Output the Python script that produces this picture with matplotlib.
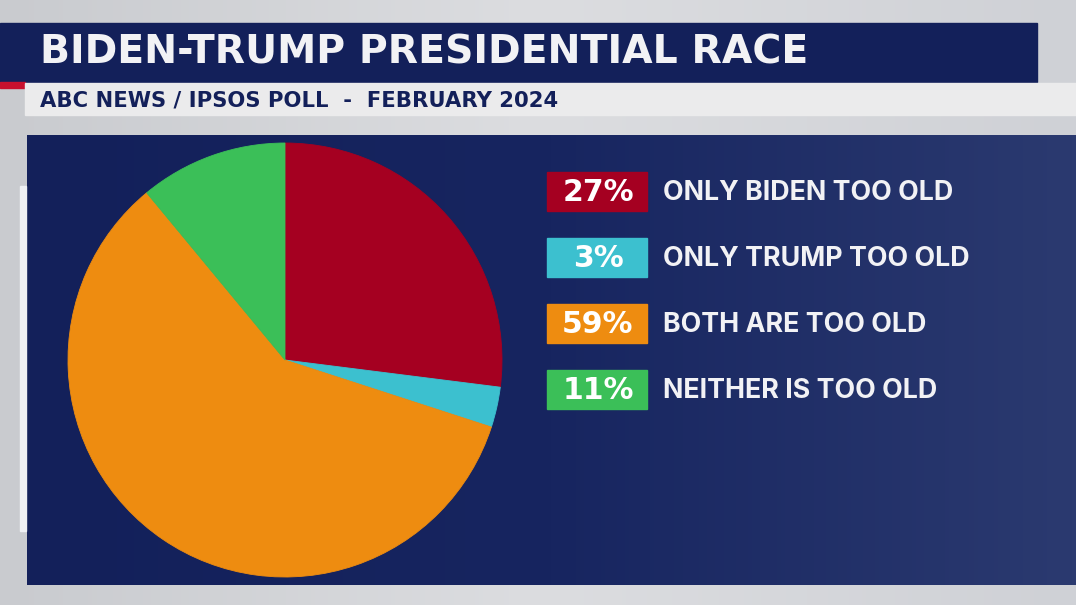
import numpy as np
import matplotlib
matplotlib.use("Agg")
import matplotlib.pyplot as plt
from matplotlib.colors import LinearSegmentedColormap
from matplotlib.patches import Rectangle

# poll data
labels = ["ONLY BIDEN TOO OLD", "ONLY TRUMP TOO OLD", "BOTH ARE TOO OLD", "NEITHER IS TOO OLD"]
values = [27, 3, 59, 11]
colors = ["#a50021", "#3cc0cf", "#ee8c10", "#3bbf58"]

title = "BIDEN-TRUMP PRESIDENTIAL RACE"
subtitle = "ABC NEWS / IPSOS POLL  -  FEBRUARY 2024"

W, H = 1076, 605
fig = plt.figure(figsize=(W / 100, H / 100), dpi=100)
renderer = fig.canvas.get_renderer()


def fit_width(t, target):
    # scale font size so the text spans the target pixel width
    w = t.get_window_extent(renderer).width
    t.set_fontsize(t.get_fontsize() * target / w)


# background layer in pixel coords
bg = fig.add_axes([0, 0, 1, 1])
bg.set_xlim(0, W)
bg.set_ylim(H, 0)
bg.axis("off")

back = np.outer(np.ones(64), np.linspace(0, 1, 256))
bg.imshow(back, extent=[0, W, H, 0], aspect="auto", zorder=0,
          cmap=LinearSegmentedColormap.from_list("bk", ["#c9cbcf", "#dcdde0", "#cfd1d6"]))

# title + subtitle bars
bg.add_patch(Rectangle((0, 23), 1037, 59, color="#13205a", zorder=2))
bg.add_patch(Rectangle((0, 82), 25, 6, color="#c8102e", zorder=2))
bg.add_patch(Rectangle((25, 83), W - 25, 32, color="#ebebec", zorder=2))

# main panel with soft gradient
panel = np.outer(np.ones(8), np.linspace(0, 1, 256))
cmap = LinearSegmentedColormap.from_list("pn", ["#13205a", "#172560", "#2b3a70"])
bg.imshow(panel, extent=[27, W, 585, 135], cmap=cmap, aspect="auto", zorder=2)
bg.add_patch(Rectangle((20, 186), 6, 345, color="#eef0f3", zorder=2))

t = bg.text(40, 52, title, color="#f2f2f5", fontsize=28, fontweight="bold",
            family="DejaVu Sans", va="center", ha="left", zorder=3)
fit_width(t, 770)
t = bg.text(40, 100, subtitle, color="#13205a", fontsize=15, fontweight="bold",
            family="DejaVu Sans", va="center", ha="left", zorder=3)
fit_width(t, 517)

# legend boxes with percentages
for i, (lab, v, c) in enumerate(zip(labels, values, colors)):
    y = 172 + i * 66
    bg.add_patch(Rectangle((547, y), 100, 39, color=c, zorder=3))
    bg.text(598, y + 20.5, f"{v}%", color="white", fontsize=21.5, fontweight="bold",
            family="DejaVu Sans", va="center", ha="center", zorder=4)
    bg.text(663, y + 20.5, lab, color="#f2f2f5", fontsize=19.3, fontweight="bold",
            family="Inter", va="center", ha="left", zorder=4)

# pie
cx, cy, r = 285, 360, 217
ax = fig.add_axes([(cx - r) / W, 1 - (cy + r) / H, 2 * r / W, 2 * r / H])
wedges, _ = ax.pie(values, colors=colors, startangle=90, counterclock=False,
                   wedgeprops=dict(linewidth=0.6))
for w in wedges:
    w.set_edgecolor(w.get_facecolor())
ax.set_xlim(-1, 1)
ax.set_ylim(-1, 1)
ax.axis("off")

fig.savefig("out.png", dpi=100)
